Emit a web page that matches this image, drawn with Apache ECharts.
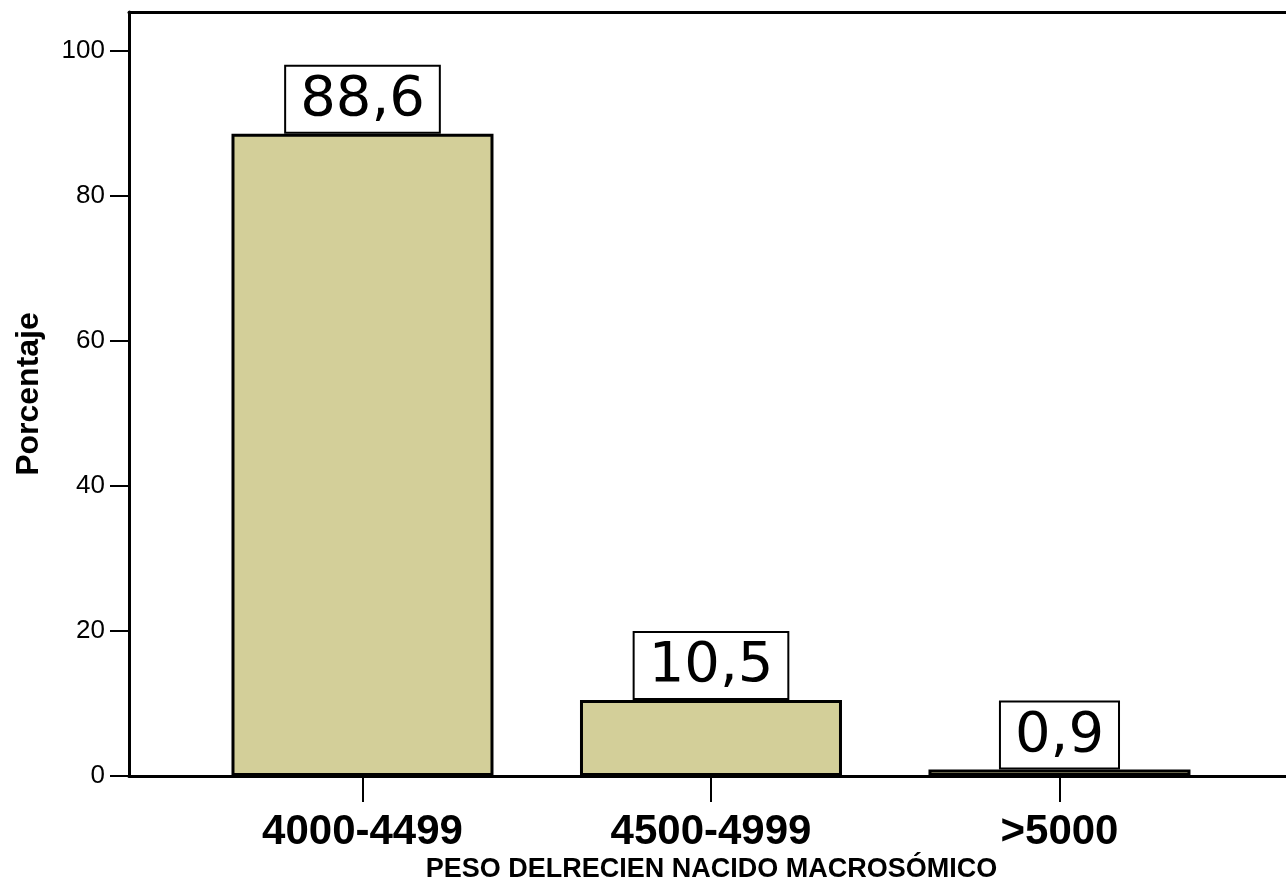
<!DOCTYPE html>
<html>
<head>
<meta charset="utf-8">
<script src="https://cdn.jsdelivr.net/npm/echarts@6/dist/echarts.min.js"></script>
<style>
  html, body { margin: 0; padding: 0; background: #fff; }
  #peso-chart { width: 1286px; height: 882px; }
</style>
</head>
<body>
<div id="peso-chart"></div>
<script>
// categories and percentages
const categories = ['4000-4499', '4500-4999', '>5000'];
const percentages = [88.6, 10.5, 0.9];
const yTicks = [0, 20, 40, 60, 80, 100];

const chart = echarts.init(document.getElementById('peso-chart'));

const barData = percentages.map((v, i) => [i, v]);

const option = {
  animation: false,
  backgroundColor: '#fff',
  textStyle: {
    fontFamily: '"Liberation Sans", Arial, sans-serif',
    color: '#000',
  },
  grid: {
    left: 129,
    right: 0,
    top: 12,
    bottom: 106,
    outerBoundsMode: 'none',
    containLabel: false,
  },
  xAxis: [
    {
      type: 'value',
      min: -0.67,
      max: 2.65,
      name: 'PESO DELRECIEN NACIDO MACROSÓMICO',
      nameLocation: 'middle',
      nameGap: 80,
      nameMoveOverlap: false,
      nameTextStyle: {
        fontSize: 27,
        fontWeight: 'bold',
        color: '#000',
        padding: [0, 0, 0, 8],
      },
      splitLine: { show: false },
      axisLine: {
        show: true,
        onZero: false,
        lineStyle: { color: '#000', width: 3 },
      },
      axisTick: {
        show: true,
        customValues: [0, 1, 2],
        length: 26,
        lineStyle: { color: '#000', width: 2 },
      },
      axisLabel: {
        customValues: [0, 1, 2],
        formatter: (v) => categories[Math.round(v)],
        fontSize: 42,
        fontWeight: 'bold',
        color: '#000',
        margin: 35,
      },
    },
    {
      // top frame line
      type: 'value',
      position: 'top',
      min: -0.67,
      max: 2.65,
      splitLine: { show: false },
      axisTick: { show: false },
      axisLabel: { show: false },
      axisLine: {
        show: true,
        onZero: false,
        lineStyle: { color: '#000', width: 3 },
      },
    },
  ],
  yAxis: {
    type: 'value',
    min: 0,
    max: 105.4,
    name: 'Porcentaje',
    nameLocation: 'middle',
    nameGap: 84,
    nameMoveOverlap: false,
    nameTextStyle: {
      fontSize: 32,
      fontWeight: 'bold',
      color: '#000',
    },
    splitLine: { show: false },
    axisLine: {
      show: true,
      onZero: false,
      lineStyle: { color: '#000', width: 3 },
    },
    axisTick: {
      show: true,
      customValues: yTicks,
      length: 19,
      lineStyle: { color: '#000', width: 2 },
    },
    axisLabel: {
      customValues: yTicks,
      fontSize: 26,
      color: '#000',
      margin: 24,
    },
  },
  series: [
    {
      type: 'bar',
      data: barData,
      barWidth: 262,
      itemStyle: {
        color: '#D3CF99',
        borderColor: '#000',
        borderWidth: 3,
      },
      label: {
        show: true,
        position: 'top',
        distance: 2,
        formatter: (p) => String(p.value[1]).replace('.', ','),
        fontFamily: '"DejaVu Sans", sans-serif',
        fontSize: 56,
        lineHeight: 60,
        color: '#000',
        backgroundColor: '#fff',
        borderColor: '#000',
        borderWidth: 2,
        padding: [4, 14, 1, 14],
      },
    },
  ],
};

chart.setOption(option);
</script>
</body>
</html>
